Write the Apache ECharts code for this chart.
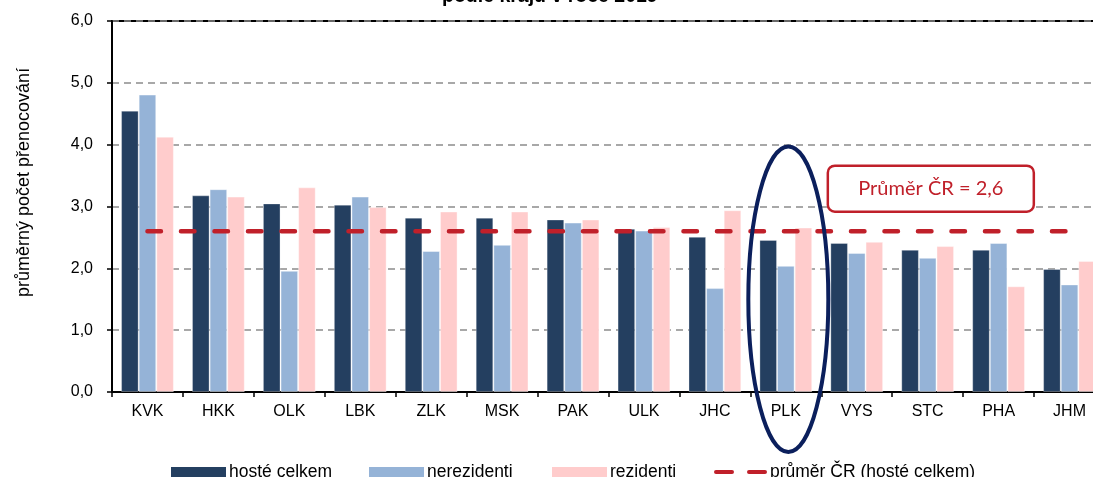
<!DOCTYPE html>
<html>
<head>
<meta charset="utf-8">
<script src="https://cdn.jsdelivr.net/npm/echarts@6/dist/echarts.min.js"></script>
<style>
html,body{margin:0;padding:0;background:#fff;overflow:hidden;width:1093px;height:477px;}
#chart{width:1105px;height:477px;}
</style>
</head>
<body>
<div id="chart"></div>
<script>
const titleText = 'podle krajů v roce 2019';
const yAxisName = 'průměrný počet přenocování';
const categories = ['KVK','HKK','OLK','LBK','ZLK','MSK','PAK','ULK','JHC','PLK','VYS','STC','PHA','JHM'];
const hosteCelkem = [4.55,3.18,3.05,3.03,2.82,2.82,2.79,2.64,2.51,2.46,2.41,2.30,2.30,1.99];
const nerezidenti = [4.81,3.28,1.96,3.16,2.28,2.38,2.74,2.61,1.68,2.04,2.25,2.17,2.41,1.74];
const rezidenti  = [4.13,3.16,3.31,2.99,2.92,2.92,2.79,2.67,2.94,2.66,2.43,2.36,1.71,2.12];
const prumerCR = 2.6;
const prumerLine = categories.map(() => prumerCR);
const seriesNames = ['hosté celkem','nerezidenti','rezidenti','průměr ČR (hosté celkem)'];
const noteText = 'Průměr ČR = 2,6';
const highlightCategory = 'PLK';

const FONT = '"Liberation Sans", Arial, sans-serif';
const chart = echarts.init(document.getElementById('chart'), null, {renderer:'canvas'});

const legendBase = {
  top: 463, itemWidth: 55, itemHeight: 10, padding: 0,
  textStyle: {color:'#000', fontFamily: FONT, fontSize: 17.5, padding:[0,0,0,-2]},
  itemStyle: {borderWidth: 0}
};

const barCommon = {type:'bar', barWidth: 17.6, barGap: '0%'};

chart.setOption({
  animation: false,
  backgroundColor: '#fff',
  title: {
    text: titleText, left: 442, top: -13, padding: 0,
    textStyle: {fontFamily: FONT, fontWeight: 'bold', fontSize: 19.5, color: '#000'}
  },
  grid: {left: 112, right: 0, top: 21, bottom: 85, show: true, borderColor: '#000', borderWidth: 2},
  legend: [
    Object.assign({}, legendBase, {data:[seriesNames[0]], left:171, icon:'rect'}),
    Object.assign({}, legendBase, {data:[seriesNames[1]], left:369, icon:'rect'}),
    Object.assign({}, legendBase, {data:[seriesNames[2]], left:552, icon:'rect'}),
    Object.assign({}, legendBase, {data:[{name: seriesNames[3],
      icon: 'path://M2,0 H18 A2,2 0 0 1 18,4 H2 A2,2 0 0 1 2,0 Z M35,0 H51 A2,2 0 0 1 51,4 H35 A2,2 0 0 1 35,0 Z'}],
      left:714, itemWidth:53, itemHeight:4.5})
  ],
  xAxis: {
    type: 'category', data: categories, boundaryGap: true,
    axisLine: {show: true, lineStyle: {color:'#000', width: 2}},
    axisTick: {show: true, length: 5, lineStyle: {color:'#000', width: 1.5}},
    axisLabel: {color:'#000', fontFamily: FONT, fontSize: 16, margin: 12},
    splitLine: {show: false}
  },
  yAxis: {
    type: 'value', min: 0, max: 6, interval: 1,
    axisLine: {show: true, lineStyle: {color:'#000', width: 2}},
    axisTick: {show: true, length: 5, lineStyle: {color:'#000', width: 1.5}},
    axisLabel: {color:'#000', fontFamily: FONT, fontSize: 16, margin: 19,
      formatter: v => v.toFixed(1).replace('.', ',')},
    splitLine: {show: true, lineStyle: {color:'#8c8c8c', width: 1.5, type: [7,5]}}
  },
  series: [
    Object.assign({}, barCommon, {name: seriesNames[0], data: hosteCelkem,
      itemStyle: {color:'#243f60', borderColor:'rgba(255,255,255,0.3)', borderWidth: 1}}),
    Object.assign({}, barCommon, {name: seriesNames[1], data: nerezidenti,
      itemStyle: {color:'#95b3d7', borderColor:'rgba(255,255,255,0.4)', borderWidth: 1}}),
    Object.assign({}, barCommon, {name: seriesNames[2], data: rezidenti,
      itemStyle: {color:'#ffcccc', borderColor:'rgba(255,255,255,0.4)', borderWidth: 1}}),
    {type:'line', name: seriesNames[3], data: prumerLine, symbol:'none', z: 5,
      itemStyle: {color:'#c0202a'},
      lineStyle: {color:'#c0202a', width: 4.5, type: [13.5, 20], cap: 'round'}}
  ]
});

// annotations positioned via the chart's own scales
const xPix = chart.convertToPixel({xAxisIndex:0}, highlightCategory);
const yPix = v => chart.convertToPixel({yAxisIndex:0}, v);
const cy = yPix(1.5);
const ry = yPix(1.5) - yPix(3.97);
const boxTop = yPix(3.66);
const boxLeft = xPix + 42;

chart.setOption({
  graphic: [
    {type:'text', z: 10, rotation: Math.PI/2, x: 15, y: 297,
      style: {text: yAxisName, fill:'#000', font: '18px ' + FONT}},
    {type:'ellipse', z: 20, silent: true,
      shape: {cx: xPix + 2.5, cy: cy, rx: 40, ry: ry},
      style: {fill: 'none', stroke: '#0b1f5c', lineWidth: 4}},
    {type:'group', z: 20, x: boxLeft, y: boxTop, children: [
      {type:'rect', shape: {x:0, y:0, width: 206, height: 46, r: 7},
        style: {fill:'#fff', stroke:'#c0202a', lineWidth: 2.5}},
      {type:'text', x: 103, y: 23,
        style: {text: noteText, fill:'#c0202a', font: '20px Lato, "Open Sans", sans-serif',
          textAlign:'center', textVerticalAlign:'middle'}}
    ]}
  ]
});
</script>
</body>
</html>
